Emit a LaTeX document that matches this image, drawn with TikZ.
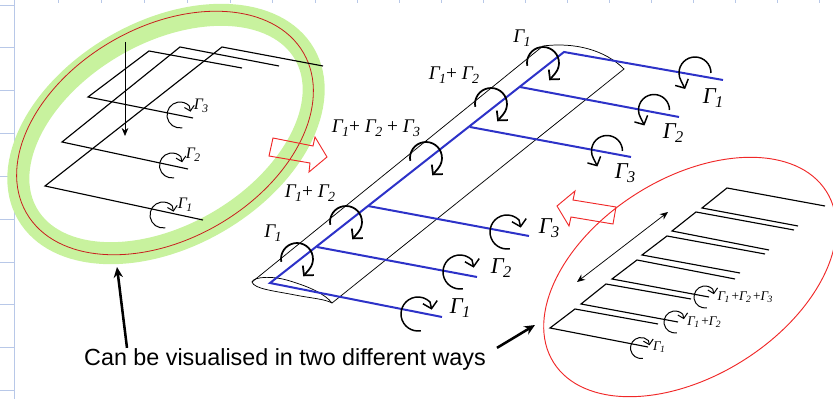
\documentclass[tikz,border=0pt]{standalone}
\usepackage{fontspec}
\setmainfont{Liberation Serif}
\newfontfamily\capfont{Liberation Sans}
\usetikzlibrary{arrows.meta}
\definecolor{gridblue}{RGB}{184,200,232}
\definecolor{ringgreen}{RGB}{200,242,158}
\definecolor{darkred}{RGB}{200,30,30}
\definecolor{linered}{RGB}{240,40,40}
\definecolor{wingblue}{RGB}{45,50,200}
\newcommand{\gam}[1]{\textit{Γ\kern-0.5pt\raisebox{-0.4ex}{\scalebox{0.72}{#1}}}}
\tikzset{
    wireline/.style={draw=black, line width=0.85pt, line join=miter},
    bluewing/.style={draw=wingblue, line width=1.5pt},
    thinwing/.style={draw=black, line width=0.55pt},
    curlsmall/.style={draw=black, line width=0.75pt, -{Straight Barb[length=3.5pt,width=7.5pt]}},
    curlbig/.style={draw=black, line width=1.3pt, -{Straight Barb[length=5pt,width=11pt]}},
    hollowarrow/.style={draw=linered, line width=0.7pt},
    pointer/.style={draw=black, line width=1.9pt, -{Stealth[length=8pt,width=7pt]}},
    gamsmall/.style={font=\fontsize{12}{12}\selectfont, inner sep=0pt},
    gammid/.style={font=\fontsize{14.5}{15}\selectfont, inner sep=0pt},
    gambig/.style={font=\fontsize{17}{17}\selectfont, inner sep=0pt},
    gamtiny/.style={font=\fontsize{10}{10}\selectfont, inner sep=0pt},
}
\begin{document}
\begin{tikzpicture}[x=0.75pt, y=-0.75pt]
    \useasboundingbox (0,0) rectangle (833,399);

    \draw[gridblue, line width=0.7pt] (14.5,0) -- (14.5,399);
    \foreach \y in {5, 47.5, 90, 133, 176, 219, 262, 304.5, 347, 390} {
        \draw[gridblue, line width=0.7pt] (0,\y) -- (14.5,\y);
    }
    \foreach \x in {58, 101, 144, 187, 230, 272, 315, 357, 399, 441, 483, 525, 567, 609, 651, 693, 735, 777, 819} {
        \draw[gridblue, line width=0.7pt] (\x,0) -- (\x,3);
    }

    \draw[ringgreen, line width=16.5pt, rotate around={30:(166,134)}] (166,134) ellipse [x radius=160, y radius=102];
    \draw[darkred, line width=0.6pt, rotate around={30:(165,133)}] (165,133) ellipse [x radius=160, y radius=106];
    \draw[linered, line width=0.7pt, rotate around={32:(690,277)}] (690,277) ellipse [x radius=161, y radius=99];

    \draw[hollowarrow] (273,138) -- (269,156) -- (310,163) -- (309,172) -- (327,157) -- (315,137) -- (313,146) -- cycle;
    \draw[hollowarrow] (575,191) -- (557,206) -- (569,226) -- (571,217) -- (613,224) -- (616,207) -- (573,200) -- cycle;

    % left wing, three horseshoes
    \draw[wireline] (323,66) -- (222,47) -- (45,186) -- (203,220);
    \draw[wireline] (279,66) -- (180,47) -- (62,142) -- (188,169);
    \draw[wireline] (242,68) -- (149,51) -- (88,97) -- (193,118);
    \draw[thinwing, -{Stealth[length=6pt,width=5pt]}] (125,42) -- (125,136);

    \foreach \cx/\cy/\rr in {180/115/13, 172/165.5/12.5, 163/215/13} {
        \draw[curlsmall] ([shift={(80:\rr)}]\cx,\cy) arc[start angle=80, end angle=315, radius=\rr] -- ++(0.1*\rr,0.45*\rr);
    }
    \node[gamsmall] (leftc) at (201,106) {\gam{3}};
    \node[gamsmall] (leftb) at (193,155) {\gam{2}};
    \node[gamsmall] (lefta) at (185,205) {\gam{1}};

    % middle wing
    \draw[thinwing] (252,282) -- (543,46) .. controls (575,42) and (605,50) .. (624,69) -- (332,303);
    \draw[thinwing] (252,282) .. controls (254,276) and (275,276) .. (290,281) .. controls (310,287) and (325,294) .. (332,303);
    \draw[thinwing] (252,282) .. controls (254,289) and (275,291) .. (295,295) .. controls (310,298) and (325,299) .. (332,303);

    \draw[bluewing] (442,317) -- (270,283) -- (564,52) -- (723,80);
    \foreach \ax/\ay/\bx/\by in {317/247/477/277, 368/206/529/236, 470/127/631/157, 520/87/679/117} {
        \draw[bluewing] (\ax,\ay) -- (\bx,\by);
    }

    \foreach \cx/\cy/\rr in {418/314/17, 460/272/17, 507/232/17} {
        \draw[curlbig, line width=1.1pt] ([shift={(80:\rr)}]\cx,\cy) arc[start angle=80, end angle=315, radius=\rr] -- ++(0.1*\rr,0.45*\rr);
    }
    \foreach \cx/\cy/\rr in {695/73/16, 654/110/15.5, 607/151/15.5} {
        \draw[curlbig, line width=1.1pt] ([shift={(0:\rr)}]\cx,\cy) arc[start angle=0, end angle=-210, radius=\rr] -- ++(0.25*\rr,0.5*\rr);
    }
    \foreach \cx/\cy in {297/259, 346/222, 426/158, 491/104, 543/63} {
        \draw[curlbig] ([shift={(170:16)}]\cx,\cy) arc[start angle=170, end angle=400, radius=16] -- ++(-6,7);
    }

    \node[gambig] (tipa) at (713,98) {\gam{1}};
    \node[gambig] (tipb) at (673,133) {\gam{2}};
    \node[gambig] (tipc) at (625,173) {\gam{3}};
    \node[gambig] (roota) at (460,308) {\gam{1}};
    \node[gambig] (rootb) at (501,268) {\gam{2}};
    \node[gambig] (rootc) at (549,228) {\gam{3}};
    \node[gammid] (bounda) at (273,233) {\gam{1}};
    \node[gammid] (boundb) at (310,193) {\gam{1}+ \gam{2}};
    \node[gammid] (boundc) at (376,128) {\gam{1}+ \gam{2} + \gam{3}};
    \node[gammid] (boundd) at (454,75) {\gam{1}+ \gam{2}};
    \node[gammid] (bounde) at (522,38) {\gam{1}};

    % right wing, stepped horseshoes
    \draw[wireline] (825,206) -- (727,188) -- (702,208) -- (798,226);
    \draw[wireline] (794,230) -- (696,212) -- (672,231) -- (769,250);
    \draw[wireline] (765,254) -- (667,236) -- (642,255) -- (740,273);
    \draw[wireline] (735,279) -- (637,260) -- (612,279) -- (709,297);
    \draw[wireline] (691,299) -- (606,284) -- (581,304) -- (678,322);
    \draw[wireline] (658,324) -- (575,309) -- (550,328) -- (648,347);
    \draw[thinwing, {Stealth[length=6pt,width=5pt]}-{Stealth[length=6pt,width=5pt]}] (668,212) -- (577,282);

    \foreach \cx/\cy/\rr in {641/348/10.5, 675/322/11, 705/297/11} {
        \draw[curlsmall] ([shift={(80:\rr)}]\cx,\cy) arc[start angle=80, end angle=315, radius=\rr] -- ++(0.1*\rr,0.45*\rr);
    }
    \node[gamtiny] (stepa) at (659,347) {\gam{1}};
    \node[gamtiny] (stepb) at (704,322) {\gam{1}\,+\gam{2}};
    \node[gamtiny] (stepc) at (745,297) {\gam{1}\,+\gam{2}\,+\gam{3}};

    \node[inner sep=0pt, font=\capfont\fontsize{17.5}{19}\selectfont] (capt) at (285,359) {Can be visualised in two different ways};
    \coordinate (ringleft) at (117,267);
    \coordinate (ringright) at (535,325);
    \draw[pointer] (capt.north west -| 127,342) -- (ringleft);
    \draw[pointer] (capt.north east -| 497,353) -- (ringright);
\end{tikzpicture}
\end{document}
